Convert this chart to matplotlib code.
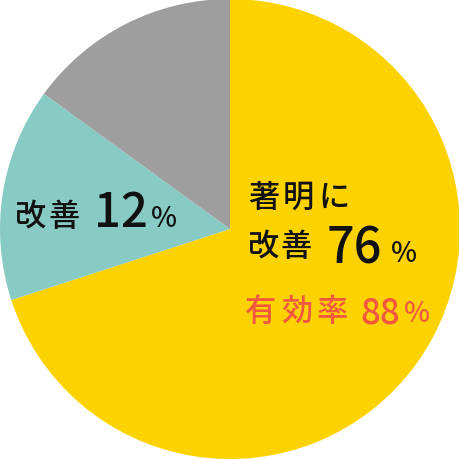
import matplotlib
matplotlib.use("Agg")
import matplotlib.pyplot as plt

# slice shares as drawn (clockwise from 12 o'clock)
labels = ["著明に改善", "改善", "その他"]
shares = [70, 15, 15]
colors = ["#FCD200", "#88CBC5", "#9E9E9E"]

txt_main = ["著明に", "改善"]
val_main = "76"
txt_eff = "有効率"
val_eff = "88"
txt_left = "改善"
val_left = "12"

plt.rcParams['font.family'] = ['Noto Sans CJK JP', 'DejaVu Sans']

fig = plt.figure(figsize=(4.6, 4.6), dpi=100)
ax = fig.add_axes([0, 0, 1, 1])
ax.pie(shares, colors=colors, startangle=90, counterclock=False,
       radius=1, wedgeprops=dict(linewidth=0))
ax.set_xlim(-1, 1)
ax.set_ylim(-1, 1)
ax.set_aspect("equal")
ax.axis("off")


def px(x, y):
    # pixel position in the 460px picture -> data coords
    return (x - 230) / 230, (230 - y) / 230


def put(s, x, y, size, color="#111111", weight="medium"):
    ax.text(*px(x, y), s, fontsize=size, color=color, fontweight=weight,
            ha="left", va="center")


def spaced(s, x, y, pitch, size=22.5, color="#111111"):
    # the reference uses wide letter spacing for the kanji
    for i, ch in enumerate(s):
        put(ch, x + i * pitch, y, size, color=color)


# big slice label
spaced(txt_main[0], 248, 198, 35)
spaced(txt_main[1], 248, 247, 33)
put(val_main, 327, 249, 35)
put("%", 391, 253, 20)
spaced(txt_eff, 245, 312, 36, color="#F2583E")
put(val_eff, 360, 313, 25, color="#F2583E")
put("%", 404, 314, 20, color="#F2583E")

# teal slice label
spaced(txt_left, 15, 217, 33)
put(val_left, 94, 214, 34)
put("%", 151, 219, 20)

fig.savefig("out.png", dpi=100, transparent=True)
